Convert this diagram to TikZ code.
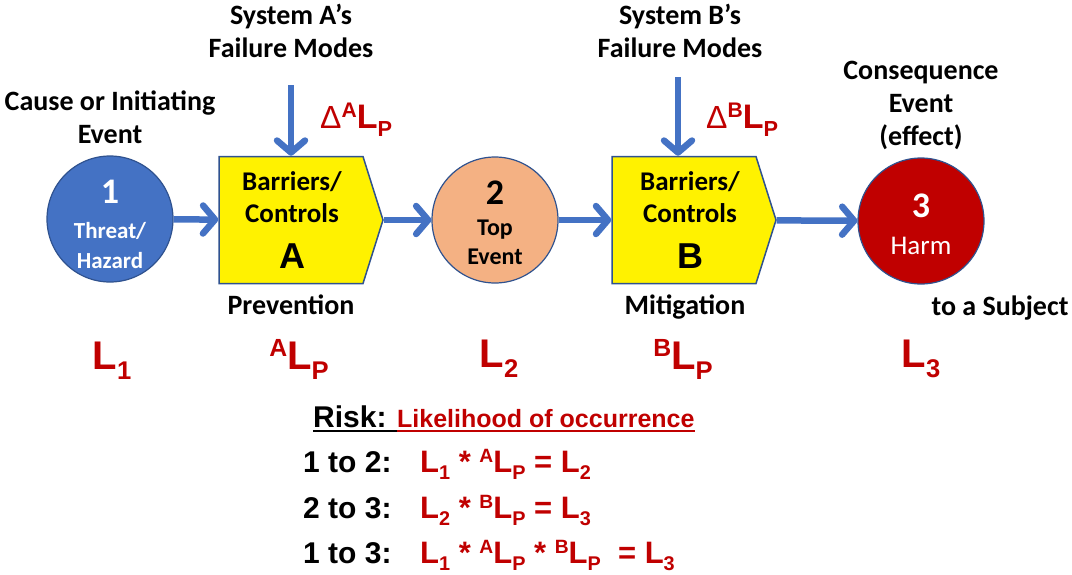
\documentclass[tikz,border=0pt]{standalone}
\usepackage{fontspec}
\setmainfont{Carlito}
\newfontfamily\arialfont{Liberation Sans}
\usetikzlibrary{arrows.meta,shapes.symbols,positioning}
\definecolor{flowblue}{HTML}{4472C4}
\definecolor{edgeblue}{HTML}{2F528F}
\definecolor{harmred}{HTML}{C00000}
\definecolor{topfill}{HTML}{F4B183}
% likelihood symbol: size, superscript, subscript
\newcommand{\likL}[3]{\fontsize{#1}{#1}\selectfont\ifx\relax#2\relax\else\raisebox{0.32em}{\fontsize{\fpeval{0.62*#1}}{#1}\selectfont #2}\fi L\raisebox{-0.25em}{\fontsize{\fpeval{0.64*#1}}{#1}\selectfont #3}}

\begin{document}
\begin{tikzpicture}[x=1pt,y=-1pt,
	flow/.style={draw=flowblue, line width=6.5pt, -{Straight Barb[round,length=12pt,width=28pt]}},
	event/.style={circle, draw=edgeblue, line width=1.2pt, minimum size=126pt, inner sep=0pt},
	barrier/.style={signal, signal to=east, signal pointer angle=145, draw=edgeblue, line width=1.5pt, fill=yellow, minimum width=164pt, minimum height=127pt, inner sep=0pt},
	intext/.style={align=center, anchor=base, inner sep=0pt, font=\bfseries\fontsize{23}{30}\selectfont},
	lbl/.style={font=\bfseries\fontsize{28}{33}\selectfont, align=center, anchor=base, inner sep=0pt},
	lik/.style={text=harmred, anchor=base, inner sep=0pt, font=\arialfont\bfseries}]
	\useasboundingbox (0,0) rectangle (1072,574);
	%events and barriers
	\node[event, fill=flowblue] (hazard) at (110,219) {};
	\node[barrier] (boxA) at (291,220) {};
	\node[event, fill=topfill] (top) at (495,220) {};
	\node[barrier] (boxB) at (684,220) {};
	\node[event, fill=harmred] (harm) at (921,221) {};
	\node[intext, text=white] (hazardtxt) at (110,268) {{\fontsize{36}{36}\selectfont 1}\\[5pt]Threat/\\Hazard};
	\node[intext, font=\bfseries\fontsize{27}{32}\selectfont] (boxAtxt) at (292,268) {Barriers/\\Controls\\[14pt]{\arialfont\fontsize{36}{36}\selectfont A}};
	\node[intext, font=\bfseries\fontsize{24}{29}\selectfont] (toptxt) at (495,264) {{\fontsize{36}{36}\selectfont 2}\\[2pt]Top\\Event};
	\node[intext, font=\bfseries\fontsize{27}{32}\selectfont] (boxBtxt) at (690,268) {Barriers/\\Controls\\[14pt]{\arialfont\fontsize{36}{36}\selectfont B}};
	\node[intext, text=white, font=\mdseries\fontsize{27}{30}\selectfont] (harmtxt) at (921,254) {{\bfseries\fontsize{36}{36}\selectfont 3}\\[7pt]Harm};
	\coordinate (failA) at (291,85);
	\coordinate (failB) at (678,77);
	\path
	(hazard) edge[flow] (boxA)
	(boxA) edge[flow] (top)
	(top) edge[flow] (boxB)
	(boxB) edge[flow] (harm)
	(failA) edge[flow] (boxA.north -| failA)
	(failB) edge[flow] (boxB.north -| failB)
	;
	%labels
	\node[lbl] (sysA) at (291,57) {System A’s\\Failure Modes};
	\node[lbl] (sysB) at (680,57) {System B’s\\Failure Modes};
	\node[lbl] (cause) at (110,143) {Cause or Initiating\\Event};
	\node[lbl] (conseq) at (921,145) {Consequence\\Event\\(effect)};
	\node[lbl] (prev) at (291,314) {Prevention};
	\node[lbl] (mitig) at (685,314) {Mitigation};
	\node[lbl] (subject) at (1000,315) {to a Subject};
	\node[lik, anchor=base west] (dA) at (320,128) {\fontsize{32}{32}\selectfont{\mdseries Δ}\likL{34}{A}{P}};
	\node[lik, anchor=base west] (dB) at (706,128) {\fontsize{32}{32}\selectfont{\mdseries Δ}\likL{34}{B}{P}};
	%likelihoods
	\node[lik] (L1) at (112,369) {\likL{40}{}{1}};
	\node[lik] (LA) at (299,369) {\likL{40}{A}{P}};
	\node[lik] (L2) at (499,367) {\likL{40}{}{2}};
	\node[lik] (LB) at (683,369) {\likL{40}{B}{P}};
	\node[lik] (L3) at (921,367) {\likL{40}{}{3}};
	%risk
	\node[anchor=base west, inner sep=0pt, font=\arialfont\bfseries\fontsize{30}{30}\selectfont] (risk) at (313,427) {Risk:};
	\node[lik, anchor=base west, font=\arialfont\bfseries\fontsize{25}{25}\selectfont] (likely) at (397,427) {Likelihood of occurrence};
	\draw[line width=2pt] ([yshift=-4pt]risk.base west) -- ([yshift=-4pt]likely.base west);
	\draw[line width=2pt, harmred] ([yshift=-4pt]likely.base west) -- ([yshift=-4pt]likely.base east);
	\foreach \y/\step/\eqn in {472/1 to 2:/{\likL{31}{}{1} * \likL{31}{A}{P} = \likL{31}{}{2}},
		518/2 to 3:/{\likL{31}{}{2} * \likL{31}{B}{P} = \likL{31}{}{3}},
		563/1 to 3:/{\likL{31}{}{1} * \likL{31}{A}{P} * \likL{31}{B}{P}\ \ = \likL{31}{}{3}}}
	{
		\node[anchor=base west, inner sep=0pt, font=\arialfont\bfseries\fontsize{30}{30}\selectfont] (s\y) at (303,\y) {\step};
		\node[lik, anchor=base west] (e\y) at (420,\y) {\eqn};
	}
\end{tikzpicture}
\end{document}
